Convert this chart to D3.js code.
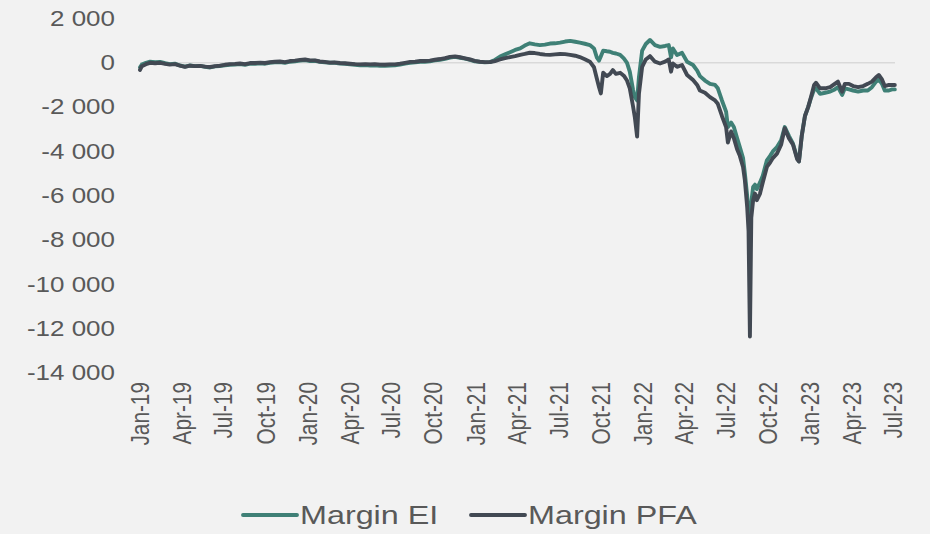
<!DOCTYPE html>
<html>
<head>
<meta charset="utf-8">
<script src="https://cdn.jsdelivr.net/npm/d3@7"></script>
<style>
html,body{margin:0;padding:0;background:#f2f2f2;}
svg{display:block;font-family:"Liberation Sans",Arial,sans-serif;}
</style>
</head>
<body>
<svg id="chart" width="930" height="534"></svg>
<script>
const dates = [
"2019-01-01","2019-01-05","2019-01-14","2019-01-23","2019-02-03","2019-02-14","2019-02-25","2019-03-07","2019-03-18","2019-03-29",
"2019-04-09","2019-04-20","2019-05-01","2019-05-12","2019-05-23","2019-06-03","2019-06-14","2019-06-24","2019-07-05","2019-07-16",
"2019-07-27","2019-08-07","2019-08-18","2019-08-29","2019-09-09","2019-09-20","2019-10-01","2019-10-11","2019-10-22","2019-11-02",
"2019-11-13","2019-11-24","2019-12-05","2019-12-16","2019-12-27","2020-01-07","2020-01-18","2020-01-28","2020-02-08","2020-02-19",
"2020-03-01","2020-03-12","2020-03-23","2020-04-03","2020-04-14","2020-04-25","2020-05-06","2020-05-17","2020-05-27","2020-06-07",
"2020-06-18","2020-06-29","2020-07-10","2020-07-21","2020-08-01","2020-08-12","2020-08-23","2020-09-03","2020-09-13","2020-09-24",
"2020-10-05","2020-10-16","2020-10-27","2020-11-07","2020-11-18","2020-11-29","2020-12-10","2020-12-21","2020-12-31","2021-01-11",
"2021-01-22","2021-02-02","2021-02-13","2021-02-24","2021-03-07","2021-03-18","2021-03-29","2021-04-09","2021-04-19","2021-04-30",
"2021-05-11","2021-05-22","2021-06-02","2021-06-13","2021-06-24","2021-07-05","2021-07-16","2021-07-27","2021-08-07","2021-08-17",
"2021-08-28","2021-09-08","2021-09-17","2021-09-23","2021-09-28","2021-10-02","2021-10-07","2021-10-15","2021-10-22","2021-10-28",
"2021-11-04","2021-11-13","2021-11-21","2021-11-28","2021-12-04","2021-12-11","2021-12-15","2021-12-20","2021-12-24","2021-12-31",
"2022-01-08","2022-01-17","2022-01-28","2022-02-08","2022-02-19","2022-02-27","2022-03-04","2022-03-08","2022-03-17","2022-03-28",
"2022-04-08","2022-04-21","2022-04-30","2022-05-06","2022-05-17","2022-05-28","2022-06-08","2022-06-14","2022-06-23","2022-07-02",
"2022-07-06","2022-07-13","2022-07-19","2022-07-26","2022-08-01","2022-08-08","2022-08-12","2022-08-17","2022-08-20","2022-08-23",
"2022-08-26","2022-08-30","2022-09-03","2022-09-07","2022-09-14","2022-09-20","2022-09-29","2022-10-06","2022-10-12","2022-10-21",
"2022-10-30","2022-11-07","2022-11-16","2022-11-25","2022-12-04","2022-12-08","2022-12-14","2022-12-21","2022-12-28","2023-01-03",
"2023-01-10","2023-01-14","2023-01-23","2023-02-03","2023-02-14","2023-02-24","2023-03-03","2023-03-12","2023-03-18","2023-03-27",
"2023-04-05","2023-04-16","2023-04-27","2023-05-07","2023-05-16","2023-05-25","2023-05-31","2023-06-07","2023-06-13","2023-06-22",
"2023-06-29","2023-07-05"
];
const marginEI = [
-200,-80,0,50,30,40,-20,-60,-40,-120,
-170,-120,-150,-140,-180,-210,-160,-150,-110,-90,
-80,-60,-90,-40,-40,-20,-40,0,20,30,
0,50,70,100,120,80,90,40,20,0,
0,-30,-40,-70,-90,-110,-100,-120,-110,-130,
-140,-120,-110,-80,-30,0,20,40,50,70,
110,140,180,240,270,230,190,130,70,40,
20,30,130,280,380,480,580,650,780,880,
830,800,820,870,880,910,960,990,950,910,
860,800,650,250,100,300,550,520,500,450,
420,360,200,0,-400,-1200,-1550,-1700,-650,550,
850,1030,800,720,760,800,250,650,350,450,
50,-100,-350,-600,-800,-950,-1000,-1150,-1700,-2200,
-2900,-2700,-2900,-3400,-3800,-4300,-5000,-6000,-7000,-7400,
-6300,-5600,-5500,-5700,-5400,-5100,-4400,-4200,-4000,-3800,
-3500,-2900,-3300,-3650,-4300,-4450,-3300,-2400,-2000,-1600,
-1200,-1150,-1400,-1350,-1300,-1200,-1100,-1450,-1150,-1200,
-1250,-1300,-1250,-1250,-1100,-850,-750,-950,-1250,-1250,
-1200,-1200
];
const marginPFA = [
-320,-150,-60,0,-20,0,-50,-80,-60,-130,
-180,-130,-150,-140,-170,-190,-150,-130,-90,-60,
-50,-30,-60,-10,-10,10,-10,30,50,60,
30,80,100,130,150,110,110,60,40,10,
20,-10,-20,-40,-60,-70,-60,-70,-60,-80,
-90,-70,-70,-40,0,40,50,80,80,100,
140,170,210,270,290,250,200,150,90,50,
30,30,80,150,210,260,300,360,400,455,
440,400,370,360,380,400,390,360,320,260,
160,50,-200,-700,-1100,-1380,-450,-600,-500,-330,
-500,-450,-580,-800,-1150,-1950,-2450,-3330,-1400,-180,
150,300,50,-30,50,150,-400,-30,-180,-100,
-550,-780,-1000,-1250,-1350,-1550,-1700,-1850,-2400,-2900,
-3600,-3100,-3400,-3900,-4200,-4700,-5300,-6500,-7600,-12350,
-7000,-6200,-5900,-6200,-5900,-5400,-4700,-4500,-4300,-4100,
-3700,-2950,-3400,-3700,-4350,-4450,-3300,-2400,-2000,-1550,
-1000,-900,-1150,-1150,-1100,-950,-850,-1300,-950,-950,
-1050,-1100,-1050,-950,-850,-650,-550,-750,-1050,-1000,
-1000,-1000
];
const yTicks = [2000,0,-2000,-4000,-6000,-8000,-10000,-12000,-14000];
const xTickLabels = ["Jan-19","Apr-19","Jul-19","Oct-19","Jan-20","Apr-20","Jul-20","Oct-20","Jan-21","Apr-21","Jul-21","Oct-21","Jan-22","Apr-22","Jul-22","Oct-22","Jan-23","Apr-23","Jul-23"];
const seriesNames = ["Margin EI","Margin PFA"];
const seriesColors = ["#3f8076","#424953"];

const parse = d3.timeParse("%Y-%m-%d");
const tickParse = d3.timeParse("%b-%y");
const svg = d3.select("#chart");
const x = d3.scaleTime().domain([parse("2019-01-01"), parse("2023-07-01")]).range([140, 893]);
const y = d3.scaleLinear().domain([-14000, 2000]).range([373, 18.5]);
const stretch = 1.22;

// zero axis line
svg.append("line").attr("x1",140).attr("x2",895).attr("y1",y(0)).attr("y2",y(0))
  .attr("stroke","#d9d9d9").attr("stroke-width",1.5);

const fmt = v => d3.format(",")(v).replace(/,/g," ").replace("−","-");
const yAxis = svg.append("g").attr("transform","translate(115,0)")
  .call(d3.axisLeft(y).tickValues(yTicks).tickSize(0).tickPadding(0).tickFormat(fmt));
yAxis.select(".domain").remove();
yAxis.selectAll("text").attr("font-size",21.3).attr("fill","#595959")
  .attr("font-family","'Liberation Sans',Arial,sans-serif")
  .attr("x",0).attr("text-anchor","end")
  .attr("transform",`scale(${stretch},1)`);

const xAxis = svg.append("g").attr("transform","translate(0,382)")
  .call(d3.axisBottom(x).tickValues(xTickLabels.map(tickParse)).tickSize(0).tickFormat(d3.timeFormat("%b-%y")));
xAxis.select(".domain").remove();
xAxis.selectAll("text").attr("font-size",20.8).attr("fill","#595959")
  .attr("font-family","'Liberation Sans',Arial,sans-serif")
  .attr("transform",`scale(${stretch},1) rotate(-90)`).attr("text-anchor","end")
  .attr("x",0).attr("y",0).attr("dx",0).attr("dy","0.35em");

const line = d3.line().x((d,i)=>x(parse(dates[i]))).y(d=>y(d));
[marginEI, marginPFA].forEach((s,k)=>{
  svg.append("path").datum(s).attr("d",line).attr("fill","none")
    .attr("stroke",seriesColors[k]).attr("stroke-width",3.9)
    .attr("stroke-linejoin","round").attr("stroke-linecap","round");
});

// legend
const legendX = [243, 471];
seriesNames.forEach((n,k)=>{
  const g = svg.append("g").attr("transform",`translate(${legendX[k]},515)`);
  g.append("line").attr("x1",0).attr("x2",54).attr("y1",0).attr("y2",0)
    .attr("stroke",seriesColors[k]).attr("stroke-width",3.9).attr("stroke-linecap","round");
  g.append("text").attr("x",57/stretch).attr("y",0).attr("dy","0.35em").text(n)
    .attr("transform",`scale(${stretch},1)`)
    .attr("font-size",26.5).attr("fill","#595959");
});
</script>
</body>
</html>
